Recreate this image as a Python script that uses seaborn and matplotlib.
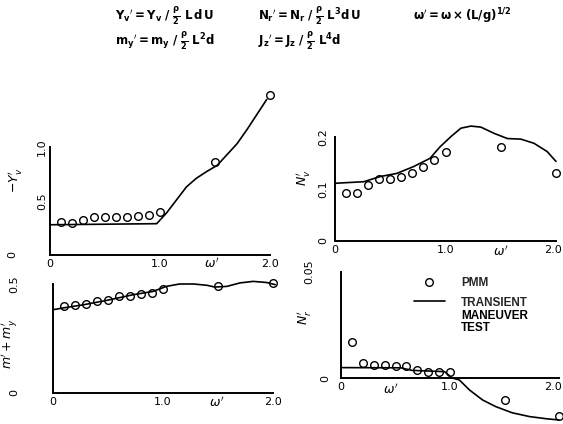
import matplotlib
matplotlib.use("Agg")
import matplotlib.pyplot as plt
import matplotlib.transforms as mtransforms
import seaborn as sns

sns.set_theme(style="white")
plt.rcParams['font.family'] = ['DejaVu Sans']
plt.rcParams['mathtext.fontset'] = 'dejavusans'

# ---------------- data ----------------
w_pmm = [0.1, 0.2, 0.3, 0.4, 0.5, 0.6, 0.7, 0.8, 0.9, 1.0, 1.5, 2.0]

# -Y_v'
yv_pmm = [0.31, 0.30, 0.32, 0.35, 0.355, 0.355, 0.355, 0.36, 0.37, 0.40, 0.86, 1.48]
yv_w = [0.0, 0.97, 1.06, 1.15, 1.24, 1.33, 1.42, 1.52, 1.61, 1.70, 1.79, 1.88, 1.97]
yv_line = [0.28, 0.29, 0.39, 0.51, 0.63, 0.71, 0.77, 0.83, 0.93, 1.03, 1.16, 1.30, 1.44]

# N_v'
nv_pmm = [0.093, 0.092, 0.108, 0.119, 0.119, 0.124, 0.131, 0.143, 0.156, 0.172, 0.181, 0.131]
nv_w = [0.0, 0.26, 0.41, 0.56, 0.71, 0.86, 0.95, 1.05, 1.14, 1.23, 1.32, 1.44, 1.56, 1.68, 1.80, 1.92, 2.0]
nv_line = [0.111, 0.114, 0.124, 0.130, 0.143, 0.159, 0.181, 0.201, 0.217, 0.221, 0.219, 0.207,
           0.197, 0.196, 0.188, 0.172, 0.153]

# m' + m_y'
my_pmm = [0.397, 0.402, 0.408, 0.423, 0.428, 0.443, 0.443, 0.454, 0.459, 0.477, 0.489, 0.505]
my_w = [0.0, 0.09, 0.28, 0.49, 0.73, 0.91, 1.03, 1.15, 1.28, 1.40, 1.47, 1.58, 1.70, 1.82, 1.94, 2.02]
my_line = [0.382, 0.390, 0.405, 0.425, 0.451, 0.466, 0.489, 0.500, 0.500, 0.494, 0.486, 0.489,
           0.505, 0.512, 0.507, 0.497]

# N_r'
nr_pmm = [0.0168, 0.0069, 0.0063, 0.0061, 0.0058, 0.0058, 0.0038, 0.0030, 0.0030, 0.0030, -0.0104, -0.0179]
nr_w = [0.0, 0.55, 0.65, 0.95, 1.02, 1.085, 1.18, 1.30, 1.42, 1.57, 1.73, 1.88, 2.0]
nr_line = [0.0049, 0.0048, 0.0036, 0.0030, 0.0, -0.0009, -0.0057, -0.0104, -0.0135, -0.0164,
           -0.0182, -0.0192, -0.0198]

x_ticks = [0, 1, 2]
x_ticklabels = ["0", "1.0", "2.0"]

# ---------------- figure ----------------
W, H = 563, 424
fig = plt.figure(figsize=(W / 100, H / 100), dpi=100)
fig.patch.set_facecolor("white")


def px_axes(x0, y_axis, width, height):
    return fig.add_axes([x0 / W, (H - y_axis) / H, width / W, height / H])


def style(ax, yticks, yticklabels, ylim, ypad, ylabel, lab_xy, wlab_xy):
    ax.set_facecolor("none")
    ax.set_xlim(0, 2)
    ax.set_ylim(*ylim)
    for s in ["top", "right"]:
        ax.spines[s].set_visible(False)
    for s in ["left", "bottom"]:
        ax.spines[s].set_color("black")
        ax.spines[s].set_linewidth(1.4)
    ax.set_xticks(x_ticks)
    ax.set_xticklabels(x_ticklabels)
    ax.set_yticks(yticks)
    ax.set_yticklabels(yticklabels)
    ax.tick_params(axis="x", direction="in", length=7, width=1.2, pad=3,
                   labelsize=8, colors="black")
    ax.tick_params(axis="y", direction="in", length=6, width=1.2, pad=ypad,
                   labelsize=8, colors="black", labelrotation=90)
    for lab in ax.get_yticklabels():
        lab.set_va("center")
    ax.set_ylabel(ylabel, fontsize=9, color="black")
    ax.yaxis.set_label_coords(*lab_xy)
    ax.set_xlabel("")
    trans = mtransforms.blended_transform_factory(ax.transData, ax.transAxes)
    ax.text(wlab_xy[0], wlab_xy[1], r"$\omega'$", transform=trans, fontsize=9,
            ha="center", va="center", color="black")


def draw(ax, w_line, v_line, v_pmm, lab_pmm=None, lab_line=None):
    sns.lineplot(x=w_line, y=v_line, ax=ax, color="black", linewidth=1.2,
                 sort=False, clip_on=False, label=lab_line, legend=False)
    sns.lineplot(x=w_pmm, y=v_pmm, ax=ax, linestyle="none", marker="o",
                 markersize=5.5, markerfacecolor="none", markeredgecolor="black",
                 markeredgewidth=1.0, clip_on=False, label=lab_pmm, legend=False,
                 sort=False)


def offset_label(lab, dx_px):
    off = mtransforms.ScaledTranslation(dx_px / 100, 0, fig.dpi_scale_trans)
    lab.set_transform(lab.get_transform() + off)


# top-left: -Y_v'
ax1 = px_axes(50, 255, 220, 108)
draw(ax1, yv_w, yv_line, yv_pmm)
style(ax1, [0, 0.5, 1.0], ["0", "0.5", "1.0"], (0, 1.0), 2,
      r"$-Y_v'$", (-0.12, 0.69), (1.47, -0.085))

# top-right: N_v'
ax2 = px_axes(335, 241, 221, 104)
draw(ax2, nv_w, nv_line, nv_pmm)
style(ax2, [0, 0.1, 0.2], ["0", "0.1", "0.2"], (0, 0.2), 5,
      r"$N_v'$", (-0.105, 0.61), (1.5, -0.1))

# bottom-left: m' + m_y'
ax3 = px_axes(53, 393, 220, 109)
draw(ax3, my_w, my_line, my_pmm)
style(ax3, [0, 0.5], ["0", "0.5"], (0, 0.5), 24,
      r"$m' + m_y'$", (-0.155, 0.45), (1.49, -0.085))

# bottom-right: N_r'
ax4 = px_axes(341, 378, 218, 106)
draw(ax4, nr_w, nr_line, nr_pmm, lab_pmm="PMM", lab_line="TRANSIENT")
style(ax4, [0, 0.05], ["0", "0.05"], (0, 0.05), 19,
      r"$N_r'$", (-0.13, 0.57), (0.46, -0.115))

# shift individual labels like the reference
offset_label(ax1.get_yticklabels()[0], -30)
offset_label(ax4.get_yticklabels()[0], 16)
offset_label(ax2.get_xticklabels()[-1], -3)
offset_label(ax4.get_xticklabels()[-1], -6)

# legend
leg_prop = {"family": "Liberation Sans", "weight": "bold", "size": 8.5}
h, l = ax4.get_legend_handles_labels()
order = [l.index("PMM"), l.index("TRANSIENT")]
leg = fig.legend([h[i] for i in order], [l[i] for i in order],
                 loc="upper left", bbox_to_anchor=(408 / W, 1 - 271 / H),
                 frameon=False, borderpad=0, handlelength=2.6, handletextpad=1.4,
                 labelspacing=0.65, prop=leg_prop)
fig.canvas.draw()
tb = leg.get_texts()[1].get_window_extent()
fig.text(tb.x0 / W, (tb.y0 - 1) / H, "MANEUVER\nTEST", ha="left", va="top",
         linespacing=1.05, fontproperties=matplotlib.font_manager.FontProperties(**leg_prop),
         color="black")

# header formulas
hdr = dict(fontsize=8.5, color="black", va="center", ha="left")
fig.text(115 / W, 1 - 16 / H, r"$\mathbf{Y_v{}' = Y_v\ /\ \frac{\rho}{2}\ L\,d\,U}$", **hdr)
fig.text(258 / W, 1 - 16 / H, r"$\mathbf{N_r{}' = N_r\ /\ \frac{\rho}{2}\ L^3 d\,U}$", **hdr)
fig.text(413 / W, 1 - 16 / H, r"$\mathbf{\omega' = \omega \times (L/g)^{1/2}}$", **hdr)
fig.text(115 / W, 1 - 41 / H, r"$\mathbf{m_y{}' = m_y\ /\ \frac{\rho}{2}\ L^2 d}$", **hdr)
fig.text(258 / W, 1 - 41 / H, r"$\mathbf{J_z{}' = J_z\ /\ \frac{\rho}{2}\ L^4 d}$", **hdr)

fig.savefig("out.png", dpi=100, facecolor="white")
